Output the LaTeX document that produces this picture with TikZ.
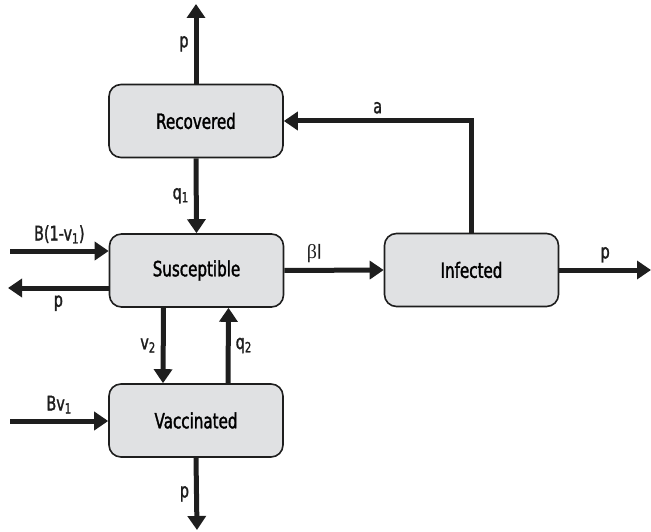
\documentclass[tikz,border=0pt]{standalone}
\usepackage{fontspec}
\setmainfont[FakeStretch=0.72,FakeBold=1.5]{DejaVu Sans}
\newfontfamily\greekfont{Liberation Serif}
\usetikzlibrary{arrows.meta}
\definecolor{boxgray}{RGB}{224,225,227}
\definecolor{ink}{RGB}{30,30,30}

\begin{document}
\begin{tikzpicture}[x=1pt,y=-1pt,
  box/.style={draw=ink, line width=1.6pt, fill=boxgray, rounded corners=12pt,
              minimum width=174pt, minimum height=73pt, font=\fontsize{21}{23}\selectfont},
  flow/.style={draw=ink, line width=5pt, ->, >={Triangle[length=14pt,width=18pt]}},
  lbl/.style={font=\fontsize{20}{22}\selectfont, text=ink, inner sep=5pt}]

\useasboundingbox (0,0) rectangle (651,532);

% Compartments
\node[box] (rec) at (196,121) {Recovered};
\node[box] (sus) at (196.5,270.5) {Susceptible};
\node[box] (inf) at (471.5,270) {Infected};
\node[box] (vac) at (196,420.5) {Vaccinated};

% free ends of the flows
\coordinate (rectop) at (196,4);
\coordinate (birth)  at (10,251);
\coordinate (susout) at (8,288);
\coordinate (infout) at (651,270);
\coordinate (vacin)  at (10,421);
\coordinate (vacbot) at (197,530);

% Recovered
\draw[flow] (rec.north) -- node[lbl,left] {p} (rectop);
\draw[flow] (rec.south) -- node[lbl,left] {q\textsubscript{1}} (sus.north);

% Susceptible
\draw[flow] (birth) -- node[lbl,above] {B(1-v\textsubscript{1})} (birth -| sus.west);
\draw[flow] (susout -| sus.west) -- node[lbl,below] {p} (susout);
\draw[flow] ([xshift=-33pt]sus.south) -- node[lbl,left] {v\textsubscript{2}} ([xshift=-33pt]vac.north);
\draw[flow] ([xshift=32pt]vac.north) -- node[lbl,right] {q\textsubscript{2}} ([xshift=32pt]sus.south);
\draw[flow] (sus.east) -- node[lbl,above,pos=0.3] {{\greekfont β}I} (inf.west);

% Infected
\draw[flow] (inf.east) -- node[lbl,above] {p} (infout);
\draw[flow] (inf.north) |- node[lbl,above,pos=0.75] {a} (rec.east);

% Vaccinated
\draw[flow] (vacin) -- node[lbl,above] {Bv\textsubscript{1}} (vacin -| vac.west);
\draw[flow] (vac.south) -- node[lbl,left] {p} (vacbot);

\end{tikzpicture}
\end{document}
